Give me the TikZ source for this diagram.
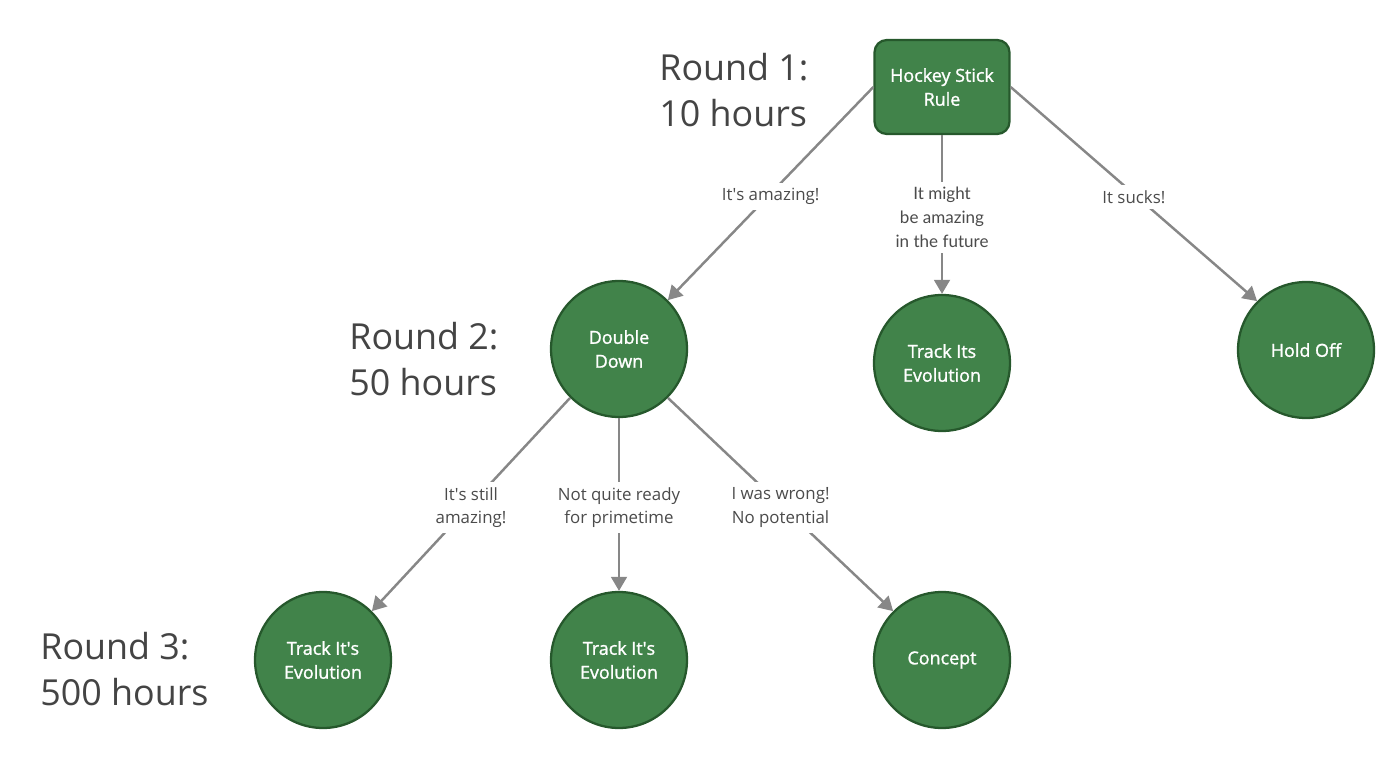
\documentclass[tikz,border=0pt]{standalone}
\usepackage{fontspec}
\setmainfont{Open Sans}
\newfontfamily\latofont{Lato}
\newfontfamily\nodefont{Open Sans}[RawFeature={embolden=1.3}]
\usetikzlibrary{arrows.meta}
\definecolor{nodegreen}{RGB}{65,131,74}
\definecolor{nodeborder}{RGB}{38,88,44}
\definecolor{linegray}{RGB}{135,135,135}
\definecolor{textgray}{RGB}{68,68,68}
\definecolor{labelgray}{RGB}{75,75,75}
\newcommand{\sq}{\textquotesingle}
\begin{document}
\begin{tikzpicture}[x=0.02cm,y=-0.02cm,
  circ/.style={circle,fill=nodegreen,draw=nodeborder,line width=1.3pt,minimum size=2.72cm,inner sep=0pt,text=white,align=center,font=\nodefont\fontsize{10.2}{13.6}\selectfont},
  rbox/.style={rectangle,rounded corners=7pt,fill=nodegreen,draw=nodeborder,line width=1.3pt,minimum width=2.7cm,minimum height=1.88cm,text=white,align=center,font=\nodefont\fontsize{10.2}{13.6}\selectfont},
  conn/.style={draw=linegray,line width=1.4pt,-{Triangle[length=8pt,width=9pt]}},
  lbl/.style={fill=white,text=labelgray,align=center,inner sep=3pt,yshift=-1.8pt,font=\fontsize{9.6}{13.6}\selectfont},
  roundlbl/.style={anchor=west,inner sep=0pt,text=textgray,align=left,font=\fontsize{20.4}{26.6}\selectfont}
]
\useasboundingbox (0,0) rectangle (1400,767);

\node[rbox] (hsr) at (942,87) {Hockey Stick\\Rule};
\node[circ] (dd) at (619,349) {Double\\Down};
\node[circ] (te) at (942,363) {Track Its\\Evolution};
\node[circ] (ho) at (1306,350) {Hold Off};
\node[circ] (tl) at (323,660) {Track It\sq s\\Evolution};
\node[circ] (tm) at (619,660) {Track It\sq s\\Evolution};
\node[circ] (co) at (942,660) {Concept};

\node[roundlbl] (r1) at (659,90) {Round 1:\\10 hours};
\node[roundlbl] (r2) at (349,359) {Round 2:\\50 hours};
\node[roundlbl] (r3) at (40,669) {Round 3:\\500 hours};

\draw[conn] (hsr.west) -- node[lbl] {It\sq s amazing!} (dd.45);
\draw[conn] (hsr.south) -- node[lbl,font=\latofont\fontsize{9.7}{13.6}\selectfont] {It might\\be amazing\\in the future} (te.north);
\draw[conn] (hsr.east) -- node[lbl] {It sucks!} (ho.135);
\draw[conn] (dd.225) -- node[lbl] {It\sq s still\\amazing!} (tl.45);
\draw[conn] (dd.south) -- node[lbl] {Not quite ready\\for primetime} (tm.north);
\draw[conn] (dd.315) -- node[lbl] {I was wrong!\\No potential} (co.135);
\end{tikzpicture}
\end{document}
